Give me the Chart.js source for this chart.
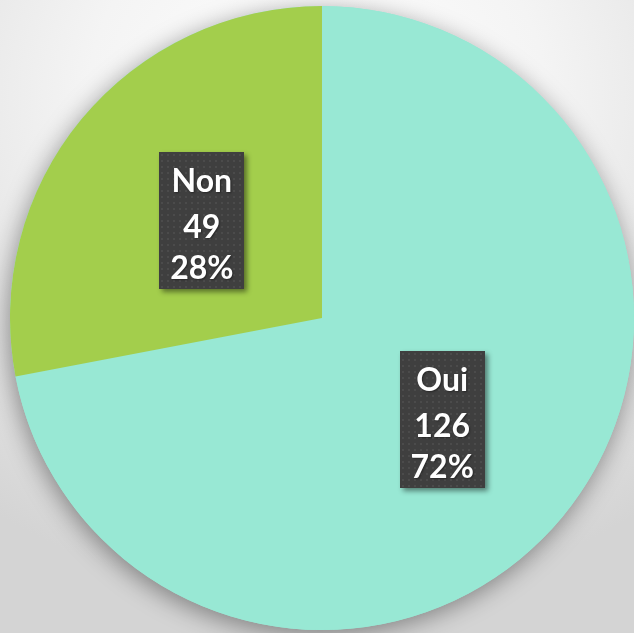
<!DOCTYPE html>
<html>
<head>
<meta charset="utf-8">
<script src="https://cdn.jsdelivr.net/npm/chart.js@4"></script>
<style>
html,body{margin:0;padding:0;}
body{width:634px;height:633px;overflow:hidden;
background:radial-gradient(ellipse 90% 80% at 50% 15%, #ffffff 0%, #f4f4f4 40%, #e2e2e2 75%, #d4d4d4 100%);}
#wrap{position:absolute;left:0;top:0;width:634px;height:633px;}
</style>
</head>
<body>
<div id="wrap"><canvas id="c"></canvas></div>
<script>
const categories = ["Oui", "Non"];
const values = [126, 49];
const colors = ["#98e8d4", "#a3ce4c"];

const total = values.reduce((a, b) => a + b, 0);

function makePattern(ctx) {
  const p = document.createElement('canvas');
  p.width = 6; p.height = 6;
  const pc = p.getContext('2d');
  pc.fillStyle = '#3f3f3f';
  pc.fillRect(0, 0, 6, 6);
  pc.fillStyle = '#4b4b4b';
  pc.fillRect(2, 2, 2, 2);
  return ctx.createPattern(p, 'repeat');
}

const pieShadow = {
  id: 'pieShadow',
  beforeDatasetsDraw(chart) {
    const arc = chart.getDatasetMeta(0).data[0];
    if (!arc) return;
    const ctx = chart.ctx;
    ctx.save();
    ctx.shadowColor = 'rgba(0,0,0,0.4)';
    ctx.shadowBlur = 24;
    ctx.shadowOffsetX = -2;
    ctx.shadowOffsetY = 5;
    ctx.fillStyle = colors[0];
    ctx.beginPath();
    ctx.arc(arc.x, arc.y, arc.outerRadius, 0, Math.PI * 2);
    ctx.fill();
    ctx.restore();
  }
};

const boxLabels = {
  id: 'boxLabels',
  afterDatasetsDraw(chart) {
    const ctx = chart.ctx;
    const meta = chart.getDatasetMeta(0);
    const pat = makePattern(ctx);
    const bw = 85, bh = 137;
    meta.data.forEach((arc, i) => {
      const pt = arc.getCenterPoint();
      const cx = pt.x, cy = pt.y + 2;
      const x0 = Math.round(cx - bw / 2), y0 = Math.round(cy - bh / 2);
      ctx.save();
      ctx.shadowColor = 'rgba(0,0,0,0.45)';
      ctx.shadowBlur = 5;
      ctx.shadowOffsetX = 3;
      ctx.shadowOffsetY = 3;
      ctx.fillStyle = '#3f3f3f';
      ctx.fillRect(x0, y0, bw, bh);
      ctx.restore();
      ctx.save();
      ctx.fillStyle = pat;
      ctx.translate(x0, y0);
      ctx.fillRect(0, 0, bw, bh);
      ctx.restore();
      const pct = Math.round(values[i] / total * 100) + '%';
      const lines = [categories[i], String(values[i]), pct];
      const offs = [-39, 7, 48];
      ctx.save();
      ctx.fillStyle = '#ffffff';
      ctx.font = 'bold 32px Lato, "Open Sans", sans-serif';
      ctx.textAlign = 'center';
      ctx.textBaseline = 'middle';
      ctx.shadowColor = 'rgba(0,0,0,0.4)';
      ctx.shadowBlur = 2;
      ctx.shadowOffsetX = 1;
      ctx.shadowOffsetY = 1;
      lines.forEach((t, k) => ctx.fillText(t, cx, cy + offs[k]));
      ctx.restore();
    });
  }
};

new Chart(document.getElementById('c'), {
  type: 'pie',
  data: {
    labels: categories,
    datasets: [{
      data: values,
      backgroundColor: colors,
      borderWidth: 0
    }]
  },
  options: {
    responsive: true,
    maintainAspectRatio: false,
    animation: false,
    layout: { padding: { left: 10, right: 0, top: 6, bottom: 3 } },
    plugins: {
      legend: { display: false },
      tooltip: { enabled: false }
    }
  },
  plugins: [pieShadow, boxLabels]
});
</script>
</body>
</html>
